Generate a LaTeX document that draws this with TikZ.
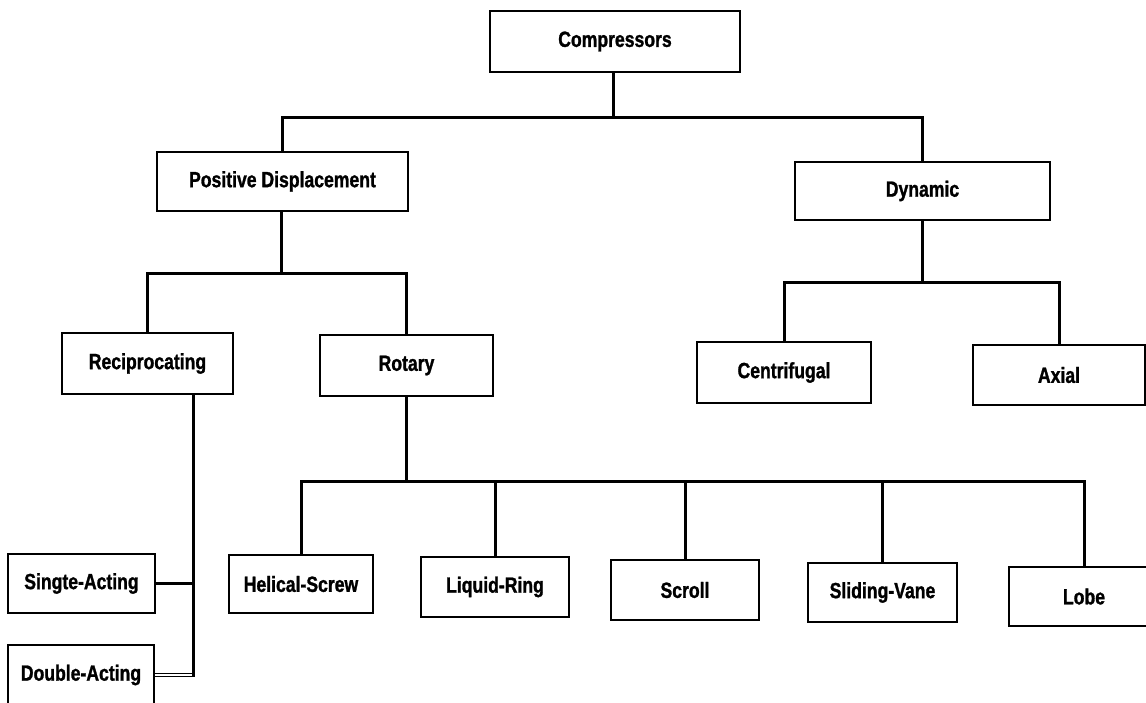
\documentclass[tikz,border=0pt]{standalone}
\usepackage{fontspec}
\newfontfamily\boxfont{Liberation Sans}[FakeStretch=0.8,FakeBold=1.2]
\begin{document}
\begin{tikzpicture}[x=1pt,y=-1pt,
  box/.style={draw=black, line width=2.8pt, fill=white, rectangle, inner sep=0pt,
    font=\boxfont\bfseries\fontsize{22}{24}\selectfont},
  conn/.style={draw=black, line width=3pt},
  dconn/.style={draw=black, line width=1.3pt, double=white, double distance=1.8pt}]
\useasboundingbox (0,0) rectangle (1146,703);
% level 0
\node[box, minimum width=250pt, minimum height=61pt] (comp) at (615,41.5) {Compressors};
% level 1
\node[box, minimum width=251pt, minimum height=59pt] (pd) at (282.5,181.5) {Positive Displacement};
\node[box, minimum width=255pt, minimum height=58pt] (dyn) at (922.5,191) {Dynamic};
% level 2
\node[box, minimum width=171pt, minimum height=61pt] (recip) at (147.5,363.5) {Reciprocating};
\node[box, minimum width=173pt, minimum height=61pt] (rot) at (406.5,365.5) {Rotary};
\node[box, minimum width=174pt, minimum height=61pt] (cent) at (784,372.5) {Centrifugal};
\node[box, minimum width=172pt, minimum height=60pt] (axial) at (1059,375) {Axial};
% level 3
\node[box, minimum width=147pt, minimum height=59pt] (single) at (81.5,583.5) {Singte-Acting};
\node[box, minimum width=146pt, minimum height=60pt] (double) at (81,675) {Double-Acting};
\node[box, minimum width=144pt, minimum height=58pt] (helical) at (301,584) {Helical-Screw};
\node[box, minimum width=148pt, minimum height=60pt] (liquid) at (495,587) {Liquid-Ring};
\node[box, minimum width=148pt, minimum height=60pt] (scroll) at (685,590) {Scroll};
\node[box, minimum width=149pt, minimum height=59pt] (sliding) at (882.5,592.5) {Sliding-Vane};
\node[box, minimum width=150pt, minimum height=59pt] (lobe) at (1084,596.5) {Lobe};
% bus coordinates
\coordinate (b1) at (613,118);
\coordinate (b2) at (281,274);
\coordinate (b3) at (922.5,283);
\coordinate (b4) at (406.5,481);
\coordinate (rv) at (193,677);
% connectors
\draw[conn] (comp.south -| b1) -- (b1);
\draw[conn] (pd.north) |- (b1) -| (dyn.north);
\draw[conn] (pd.south -| b2) -- (b2);
\draw[conn] (recip.north) |- (b2) -| (rot.north);
\draw[conn] (dyn.south) -- (b3);
\draw[conn] (cent.north) |- (b3) -| (axial.north);
\draw[conn] (rot.south) -- (b4);
\draw[conn] (helical.north) |- (b4) -| (lobe.north);
\draw[conn] (liquid.north) -- (liquid.north |- b4);
\draw[conn] (scroll.north) -- (scroll.north |- b4);
\draw[conn] (sliding.north) -- (sliding.north |- b4);
\draw[conn] (recip.south -| rv) -- (rv);
\draw[conn] (single.east) -- (single.east -| rv);
\draw[dconn] (double.east) -- ([xshift=-1.5pt]double.east -| rv);
\end{tikzpicture}
\end{document}
